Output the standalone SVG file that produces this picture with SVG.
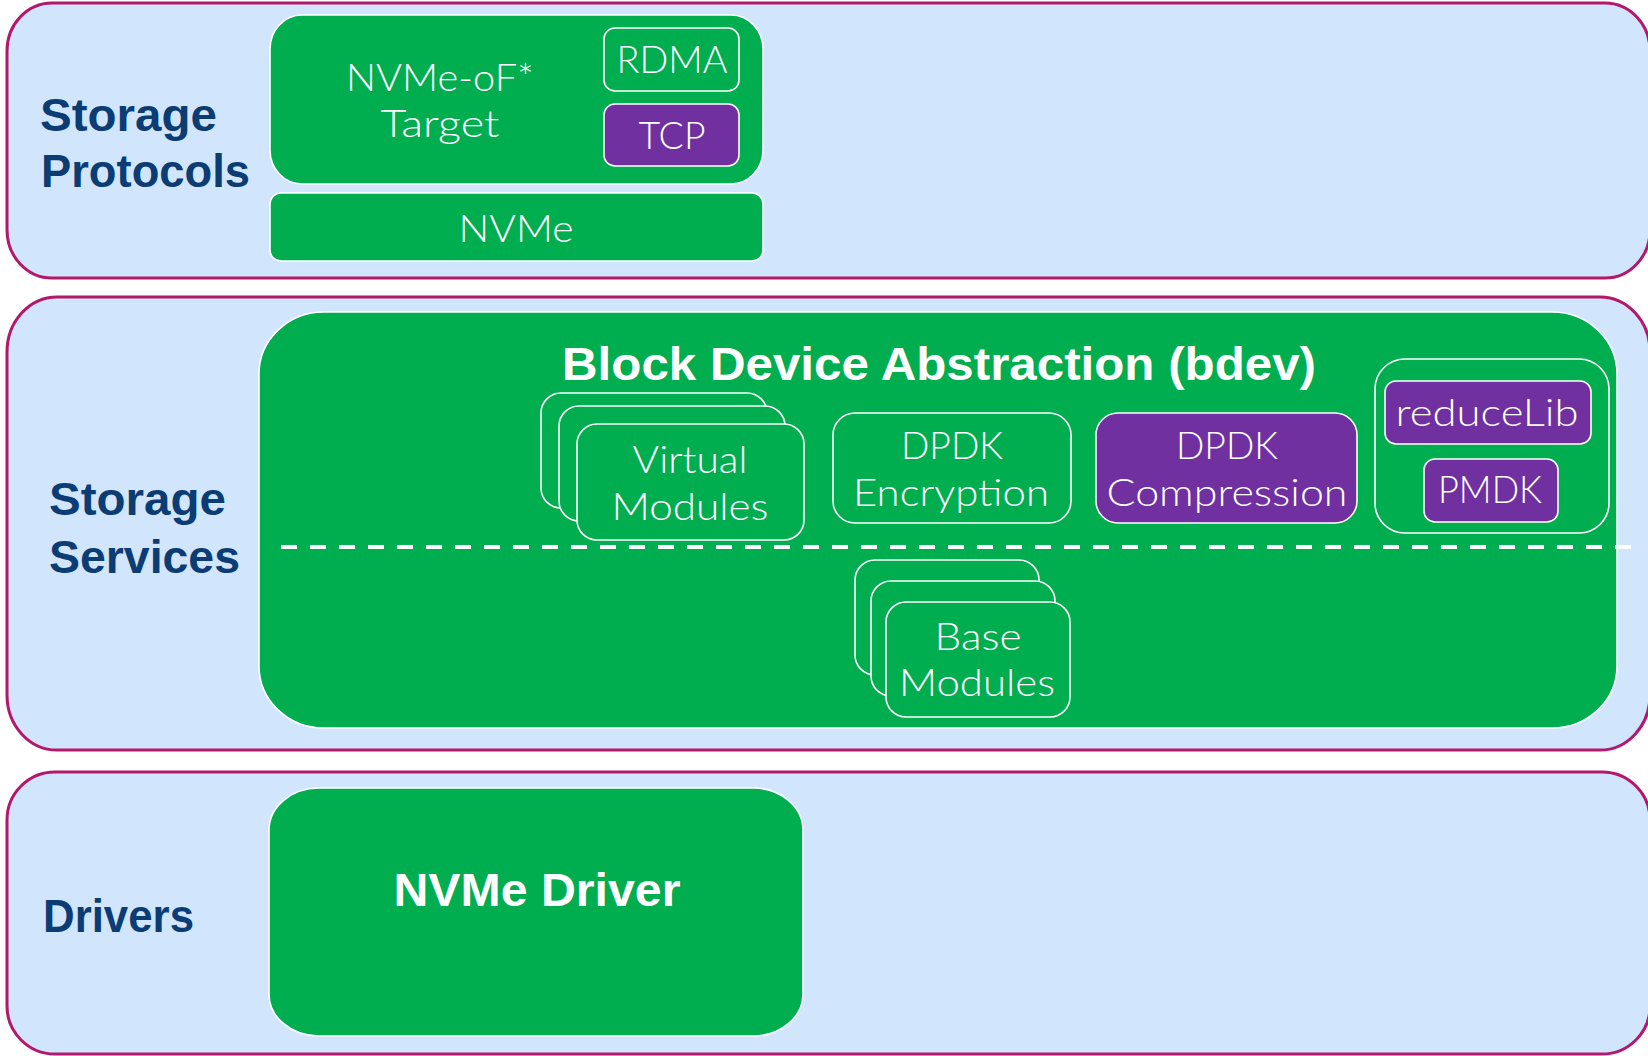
<svg xmlns="http://www.w3.org/2000/svg" width="1648" height="1056" viewBox="0 0 1648 1056">
  <style>
    .band { fill: #D1E6FC; stroke: #B3186C; stroke-width: 3; }
    .g { fill: #00AD4F; stroke: #FFFFFF; stroke-width: 1.6; }
    .p { fill: #7030A0; stroke: #FFFFFF; stroke-width: 1.6; }
    .lbl { font-family: "Liberation Sans", Arial, sans-serif; font-weight: bold; font-size: 46px; fill: #0B3C73; }
    .t { font-family: "Lato", "Liberation Sans", sans-serif; font-weight: 300; font-size: 37px; fill: #FFFFFF; text-anchor: middle; }
    .tb { font-family: "Liberation Sans", Arial, sans-serif; font-weight: bold; font-size: 46px; fill: #FFFFFF; text-anchor: middle; }
    .dash { stroke: #FFFFFF; stroke-width: 4; stroke-dasharray: 16 13; fill: none; }
  </style>

  <!-- Layer bands -->
  <g id="layer-protocols">
    <rect class="band" x="7" y="3" width="1643" height="275" rx="45" ry="48"/>
    <text class="lbl" x="40" y="131" textLength="177" lengthAdjust="spacingAndGlyphs">Storage</text>
    <text class="lbl" x="41" y="187" textLength="209" lengthAdjust="spacingAndGlyphs">Protocols</text>
  </g>
  <g id="layer-services">
    <rect class="band" x="7" y="297" width="1643" height="453" rx="50" ry="55"/>
    <text class="lbl" x="49" y="515" textLength="177" lengthAdjust="spacingAndGlyphs">Storage</text>
    <text class="lbl" x="49" y="573" textLength="191" lengthAdjust="spacingAndGlyphs">Services</text>
  </g>
  <g id="layer-drivers">
    <rect class="band" x="7" y="772" width="1643" height="282" rx="48" ry="48"/>
    <text class="lbl" x="43" y="932" textLength="151" lengthAdjust="spacingAndGlyphs">Drivers</text>
  </g>

  <!-- Storage protocols -->
  <g id="nvmeof-target">
    <rect class="g" x="270" y="15" width="493" height="169" rx="32" ry="34"/>
    <text class="t" x="440" y="91" textLength="188" lengthAdjust="spacingAndGlyphs">NVMe-oF*</text>
    <text class="t" x="440" y="137" textLength="119" lengthAdjust="spacingAndGlyphs">Target</text>
  </g>
  <g id="rdma">
    <rect class="g" x="604" y="28" width="135" height="63" rx="11"/>
    <text class="t" x="672" y="73" textLength="111" lengthAdjust="spacingAndGlyphs">RDMA</text>
  </g>
  <g id="tcp">
    <rect class="p" x="604" y="104" width="135" height="62" rx="11"/>
    <text class="t" x="672" y="149" textLength="67" lengthAdjust="spacingAndGlyphs">TCP</text>
  </g>
  <g id="nvme">
    <rect class="g" x="270" y="193" width="493" height="68" rx="11"/>
    <text class="t" x="516" y="242" textLength="115" lengthAdjust="spacingAndGlyphs">NVMe</text>
  </g>

  <!-- Block device abstraction -->
  <g id="bdev">
    <rect class="g" x="259" y="312" width="1358" height="416" rx="65" ry="62"/>
    <text class="tb" x="939" y="380" textLength="754" lengthAdjust="spacingAndGlyphs">Block Device Abstraction (bdev)</text>
  </g>

  <g id="connectors">
    <line class="dash" x1="281" y1="547" x2="1638" y2="547"/>
  </g>

  <g id="virtual-modules">
    <rect class="g" x="541" y="393" width="226" height="115" rx="20"/>
    <rect class="g" x="559" y="406" width="226" height="115" rx="20"/>
    <rect class="g" x="577" y="424" width="227" height="116" rx="20"/>
    <text class="t" x="690" y="473" textLength="115" lengthAdjust="spacingAndGlyphs">Virtual</text>
    <text class="t" x="690" y="520" textLength="157" lengthAdjust="spacingAndGlyphs">Modules</text>
  </g>
  <g id="dpdk-encryption">
    <rect class="g" x="833" y="413" width="238" height="110" rx="22"/>
    <text class="t" x="952" y="459" textLength="102" lengthAdjust="spacingAndGlyphs">DPDK</text>
    <text class="t" x="951" y="506" textLength="196" lengthAdjust="spacingAndGlyphs">Encryption</text>
  </g>
  <g id="dpdk-compression">
    <rect class="p" x="1096" y="413" width="261" height="110" rx="22"/>
    <text class="t" x="1227" y="459" textLength="102" lengthAdjust="spacingAndGlyphs">DPDK</text>
    <text class="t" x="1227" y="506" textLength="241" lengthAdjust="spacingAndGlyphs">Compression</text>
  </g>
  <g id="reduce-group">
    <rect class="g" x="1375" y="359" width="234" height="174" rx="30"/>
  </g>
  <g id="reducelib">
    <rect class="p" x="1385" y="381" width="206" height="63" rx="11"/>
    <text class="t" x="1487" y="426" textLength="183" lengthAdjust="spacingAndGlyphs">reduceLib</text>
  </g>
  <g id="pmdk">
    <rect class="p" x="1424" y="459" width="134" height="63" rx="11"/>
    <text class="t" x="1490" y="503" textLength="104" lengthAdjust="spacingAndGlyphs">PMDK</text>
  </g>
  <g id="base-modules">
    <rect class="g" x="855" y="560" width="184" height="115" rx="20"/>
    <rect class="g" x="871" y="581" width="184" height="115" rx="20"/>
    <rect class="g" x="886" y="602" width="184" height="115" rx="20"/>
    <text class="t" x="978" y="650" textLength="87" lengthAdjust="spacingAndGlyphs">Base</text>
    <text class="t" x="977" y="696" textLength="156" lengthAdjust="spacingAndGlyphs">Modules</text>
  </g>

  <!-- Drivers -->
  <g id="nvme-driver">
    <rect class="g" x="269" y="788" width="534" height="248" rx="50" ry="42"/>
    <text class="tb" x="537" y="906" textLength="287" lengthAdjust="spacingAndGlyphs">NVMe Driver</text>
  </g>
</svg>
